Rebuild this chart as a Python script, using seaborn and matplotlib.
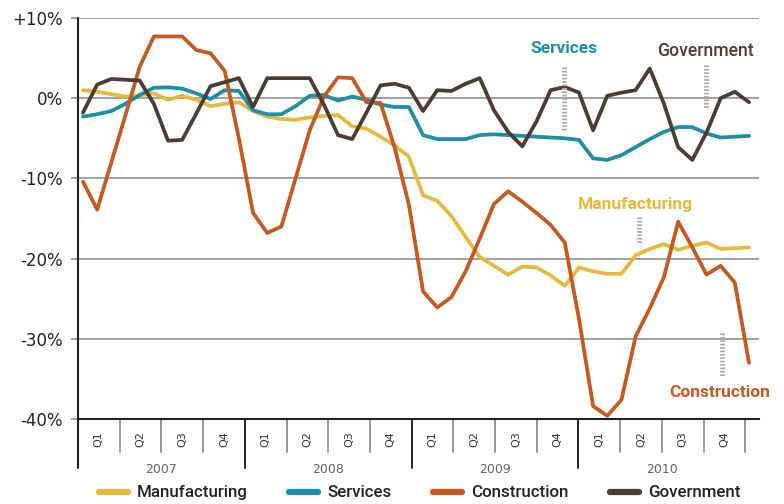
import matplotlib
matplotlib.use("Agg")
import matplotlib.pyplot as plt
import seaborn as sns
import pandas as pd
from matplotlib.transforms import blended_transform_factory

# ---------------- data ----------------
series_names = ["Manufacturing", "Services", "Construction", "Government"]
colors = ["#E8B83A", "#1A8FA5", "#C65A1E", "#4E3B34"]
years = ["2007", "2008", "2009", "2010"]
quarters = ["Q1", "Q2", "Q3", "Q4"]
months = list(range(48))  # Jan 2007 .. Dec 2010

manufacturing = [1.0, 0.8, 0.5, 0.2, 0.35, 0.6, -0.2, 0.3, -0.2, -1.0, -0.7, -0.5,
                 -1.6, -2.3, -2.6, -2.7, -2.4, -2.2, -2.1, -3.5, -3.8, -4.8, -5.9, -7.3,
                 -12.1, -12.8, -14.7, -17.3, -19.8, -20.9, -22.0, -21.0, -21.1, -22.1, -23.4, -21.1,
                 -21.6, -21.9, -21.9, -19.6, -18.8, -18.2, -18.9, -18.4, -18.0, -18.8, -18.7, -18.6]
services = [-2.3, -2.0, -1.6, -0.7, 0.4, 1.3, 1.35, 1.2, 0.6, -0.1, 1.0, 0.9,
            -1.5, -2.0, -2.0, -1.0, 0.3, 0.4, -0.3, 0.2, -0.2, -0.8, -1.1, -1.1,
            -4.6, -5.1, -5.1, -5.1, -4.6, -4.5, -4.6, -4.7, -4.8, -4.9, -5.0, -5.2,
            -7.5, -7.7, -7.1, -6.1, -5.1, -4.2, -3.6, -3.6, -4.4, -4.9, -4.8, -4.7]
construction = [-10.4, -13.9, -8.0, -2.1, 3.9, 7.7, 7.7, 7.7, 6.0, 5.6, 3.4, -5.0,
                -14.3, -16.8, -16.0, -10.0, -4.0, 0.2, 2.6, 2.5, -0.5, -0.6, -6.2, -13.3,
                -24.1, -26.1, -24.8, -21.6, -17.5, -13.2, -11.6, -12.9, -14.3, -15.8, -18.0, -27.5,
                -38.4, -39.6, -37.6, -29.7, -26.2, -22.3, -15.4, -18.6, -22.0, -20.9, -23.0, -33.0]
government = [-1.8, 1.7, 2.4, 2.3, 2.2, -0.7, -5.3, -5.2, -1.9, 1.5, 2.0, 2.5,
              -1.1, 2.5, 2.5, 2.5, 2.5, -0.8, -4.6, -5.1, -1.8, 1.6, 1.8, 1.3,
              -1.6, 1.0, 0.9, 1.8, 2.5, -1.5, -4.2, -6.0, -2.9, 1.0, 1.4, 0.7,
              -4.0, 0.3, 0.7, 1.0, 3.7, -0.7, -6.1, -7.7, -4.3, 0.0, 0.8, -0.5]

yticks = [10, 0, -10, -20, -30, -40]
ytick_labels = ["+10%", "0%", "-10%", "-20%", "-30%", "-40%"]

df = pd.DataFrame({
    "month": months * 4,
    "value": manufacturing + services + construction + government,
    "series": sum([[n] * len(months) for n in series_names], []),
})

# ---------------- style ----------------
sns.set_style("white")
plt.rcParams["font.family"] = ["DejaVu Sans"]
narrow = ["Roboto", "DejaVu Sans"]

fig = plt.figure(figsize=(7.84, 5.04), dpi=100)
ax = fig.add_axes([78 / 784, 1 - 419 / 504, 681 / 784, 401 / 504])

sns.lineplot(data=df, x="month", y="value", hue="series", hue_order=series_names,
             palette=colors, linewidth=2.7, ax=ax, legend=True)

x0, qw = -0.353, 2.943
ax.set_xlim(x0, x0 + qw * 16.33)
ax.set_ylim(-40, 10)
ax.set_xticks([])
ax.set_xlabel("")
ax.set_ylabel("")
ax.set_yticks(yticks)
ax.set_yticklabels(ytick_labels)
ax.tick_params(axis="y", length=5, width=1.3, color="#9a9a9a", pad=6,
               labelsize=12, labelcolor="#222222", left=True)
ax.yaxis.grid(True, color="#9a9a9a", linewidth=1.3)
ax.set_axisbelow(True)
for s in ["top", "right", "left"]:
    ax.spines[s].set_visible(False)
ax.spines["bottom"].set_color("#222222")
ax.spines["bottom"].set_linewidth(1.5)

tr = blended_transform_factory(ax.transData, ax.transAxes)
# left axis line extended down
ax.plot([0, 0], [1, -0.122], transform=ax.transAxes, color="#222222", lw=1.5, clip_on=False)
for k in range(1, 17):
    xb = x0 + qw * k
    if k % 4 == 0 and k < 16:
        ax.plot([xb, xb], [0, -0.122], transform=tr, color="#222222", lw=1.4, clip_on=False)
    else:
        ax.plot([xb, xb], [0, -0.082], transform=tr, color="#9a9a9a", lw=1.4, clip_on=False)
for k in range(16):
    ax.text(x0 + qw * (k + 0.5), -0.05, quarters[k % 4], transform=tr, rotation=90,
            ha="center", va="center", fontsize=8, color="#333333")
for j, yr in enumerate(years):
    ax.text(x0 + qw * (4 * j + 2), -0.125, yr, transform=tr, ha="center", va="center",
            fontsize=9, color="#666666")

# annotations
ax.text(0.714, 0.923, "Services", transform=ax.transAxes, ha="center", va="center",
        color=colors[1], fontsize=12.5, fontweight="bold", family=narrow)
ax.text(0.922, 0.918, "Government", transform=ax.transAxes, ha="center", va="center",
        color=colors[3], fontsize=12.7, fontweight="medium", family=narrow)
ax.text(0.819, 0.536, "Manufacturing", transform=ax.transAxes, ha="center", va="center",
        color=colors[0], fontsize=12.5, fontweight="bold", family=narrow)
ax.text(0.943, 0.065, "Construction", transform=ax.transAxes, ha="center", va="center",
        color=colors[2], fontsize=12.5, fontweight="bold", family=narrow)
for xf, ya, yb in [(0.714, 0.878, 0.718), (0.922, 0.883, 0.776),
                   (0.824, 0.504, 0.436), (0.946, 0.214, 0.107)]:
    ax.plot([xf, xf], [ya, yb], transform=ax.transAxes, color="#aaaaaa", lw=3.5,
            linestyle=(0, (0.35, 0.35)), clip_on=False)

sns.move_legend(ax, "center", bbox_to_anchor=(0.502, -0.1845), ncol=4, frameon=False,
                title=None, prop={"family": narrow, "size": 12.2, "weight": "medium"},
                handlelength=1.7, handletextpad=0.55, columnspacing=2.45)
leg = ax.get_legend()
for line in leg.get_lines():
    line.set_linewidth(4.5)
for t in leg.get_texts():
    t.set_color("#222222")

fig.savefig("out.png", dpi=100)
